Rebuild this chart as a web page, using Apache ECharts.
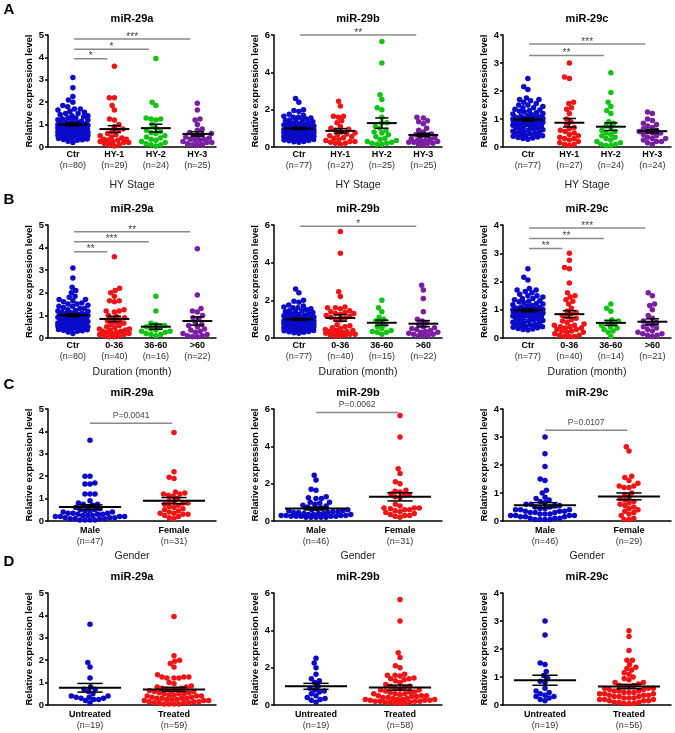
<!DOCTYPE html>
<html><head><meta charset="utf-8">
<script src="https://cdn.jsdelivr.net/npm/echarts/dist/echarts.min.js"></script>
<style>html,body{margin:0;padding:0;background:#fff}#c{width:675px;height:733px}</style>
</head><body><div id="c"></div>
<script>
// ---------- categories & n labels ----------
const catHY = ['Ctr', 'HY-1', 'HY-2', 'HY-3'];
const catDur = ['Ctr', '0-36', '36-60', '>60'];
const catGender = ['Male', 'Female'];
const catTreat = ['Untreated', 'Treated'];
const nA_a = [80, 29, 24, 25], nA_b = [77, 27, 25, 25], nA_c = [77, 27, 24, 24];
const nB_a = [80, 40, 16, 22], nB_b = [77, 40, 15, 22], nB_c = [77, 40, 14, 21];
const nC_a = [47, 31], nC_b = [46, 31], nC_c = [46, 29];
const nD_a = [19, 59], nD_b = [19, 58], nD_c = [19, 56];
const yTicksMax = [5, 6, 4];
const yTicksStep = [1, 2, 1];

// ---------- controls ----------
const ctr_a = [3.10,2.65,2.25,2.10,2.00,1.85,1.80,1.70,1.70,1.65,1.60,1.55,1.50,1.50,1.45,1.40,1.40,1.35,1.30,1.30,
1.25,1.22,1.20,1.18,1.15,1.12,1.10,1.08,1.06,1.05,1.04,1.02,1.01,1.00,1.00,0.99,0.98,0.97,0.96,0.95,
0.93,0.92,0.90,0.88,0.87,0.85,0.83,0.82,0.80,0.78,0.76,0.75,0.73,0.72,0.70,0.68,0.66,0.65,0.63,0.61,
0.60,0.58,0.56,0.55,0.53,0.51,0.50,0.48,0.46,0.45,0.43,0.41,0.40,0.38,0.36,0.34,0.32,0.30,0.26,0.20];
const ctr_b = [2.60,2.40,2.00,1.95,1.90,1.75,1.70,1.65,1.60,1.60,1.55,1.50,1.45,1.40,1.35,
1.30,1.28,1.25,1.22,1.20,1.18,1.15,1.12,1.10,1.08,1.06,1.05,1.03,1.02,1.00,0.99,0.98,0.97,0.96,0.95,
0.93,0.92,0.91,0.90,0.88,0.87,0.86,0.85,0.84,0.82,0.80,0.78,0.76,0.75,0.74,0.72,0.70,0.68,0.66,0.65,
0.63,0.61,0.60,0.58,0.56,0.55,0.53,0.51,0.50,0.48,0.46,0.44,0.42,0.40,0.38,0.35,0.33,0.30,0.28,0.25,1.40,1.45];
const ctr_c = [2.45,2.15,2.05,1.75,1.70,1.70,1.65,1.60,1.55,1.50,1.50,1.45,1.40,1.40,1.35,
1.32,1.30,1.28,1.25,1.22,1.20,1.18,1.15,1.12,1.10,1.08,1.06,1.05,1.04,1.02,1.01,1.00,0.99,0.98,0.97,
0.96,0.95,0.94,0.92,0.91,0.90,0.89,0.88,0.86,0.85,0.84,0.82,0.80,0.78,0.77,0.75,0.73,0.72,0.70,0.68,
0.66,0.64,0.62,0.60,0.58,0.56,0.54,0.52,0.50,0.48,0.46,0.44,0.42,0.40,0.38,0.36,0.34,0.32,0.30,0.28,0.90,1.00];

// ---------- A: HY stage ----------
const hy1_a = [3.6,2.2,2.2,1.85,1.65,1.25,1.2,1.0,0.9,0.8,0.75,0.7,0.6,0.55,0.5,0.45,0.4,0.35,0.35,0.3,0.3,0.25,0.25,0.2,0.2,0.15,0.1,0.1,0.05];
const hy2_a = [3.95,2.0,1.85,1.3,1.25,1.25,1.2,1.0,0.85,0.75,0.7,0.65,0.6,0.5,0.45,0.4,0.35,0.3,0.25,0.2,0.15,0.1,0.1,0.05];
const hy3_a = [1.95,1.65,1.25,1.2,1.0,0.8,0.75,0.65,0.6,0.55,0.5,0.45,0.45,0.4,0.35,0.35,0.3,0.3,0.25,0.2,0.2,0.15,0.1,0.1,0.1];
const hy1_b = [2.45,2.2,1.65,1.65,1.6,1.4,1.3,1.1,1.0,0.95,0.9,0.8,0.75,0.7,0.65,0.6,0.55,0.5,0.45,0.4,0.35,0.3,0.3,0.25,0.2,0.2,0.15];
const hy2_b = [5.65,4.5,2.8,2.55,2.1,2.0,1.6,1.3,1.3,1.1,1.0,0.9,0.8,0.75,0.65,0.55,0.45,0.4,0.35,0.3,0.25,0.2,0.2,0.15,0.15];
const hy3_b = [1.6,1.55,1.4,1.35,1.25,1.0,0.9,0.8,0.7,0.65,0.6,0.55,0.5,0.45,0.4,0.35,0.35,0.3,0.3,0.25,0.25,0.2,0.2,0.15,0.1];
const hy1_c = [3.0,2.5,2.45,1.6,1.55,1.4,1.35,1.2,1.0,0.9,0.8,0.7,0.65,0.6,0.55,0.5,0.45,0.4,0.35,0.3,0.3,0.25,0.2,0.15,0.1,0.1,0.05];
const hy2_c = [2.65,1.95,1.6,1.45,1.3,1.2,0.9,0.85,0.75,0.7,0.6,0.55,0.5,0.45,0.4,0.35,0.3,0.25,0.2,0.15,0.1,0.1,0.05,0.05];
const hy3_c = [1.25,1.2,1.0,0.95,0.85,0.8,0.75,0.7,0.65,0.6,0.55,0.55,0.5,0.5,0.45,0.4,0.35,0.3,0.3,0.25,0.2,0.2,0.15,0.1];

// ---------- B: duration ----------
const dur1_a = [3.6,2.2,2.1,2.0,1.85,1.65,1.65,1.6,1.25,1.2,1.2,1.15,1.0,0.95,0.9,0.85,0.8,0.75,0.7,0.65,0.6,0.55,0.5,0.45,0.4,0.4,0.35,0.35,0.3,0.3,0.25,0.25,0.2,0.2,0.15,0.15,0.1,0.1,0.05,0.05];
const dur2_a = [1.85,1.2,0.65,0.6,0.55,0.5,0.45,0.4,0.35,0.3,0.3,0.25,0.2,0.15,0.15,0.1];
const dur3_a = [3.95,1.9,1.3,1.2,1.15,1.0,0.9,0.85,0.7,0.6,0.55,0.5,0.4,0.35,0.3,0.25,0.2,0.15,0.1,0.1,0.05,0.05];
const dur1_b = [5.65,4.5,2.45,2.2,1.65,1.6,1.6,1.55,1.45,1.4,1.35,1.3,1.3,1.25,1.2,1.15,1.1,1.05,1.0,0.95,0.7,0.65,0.6,0.55,0.5,0.45,0.4,0.4,0.35,0.35,0.3,0.3,0.25,0.25,0.2,0.2,0.15,0.15,0.1,0.1];
const dur2_b = [2.0,1.6,1.4,1.1,1.0,0.9,0.8,0.7,0.6,0.5,0.4,0.35,0.3,0.3,0.2];
const dur3_b = [2.8,2.55,2.1,1.4,1.0,0.9,0.8,0.7,0.6,0.55,0.5,0.45,0.4,0.35,0.3,0.3,0.25,0.2,0.2,0.15,0.1,0.1];
const dur1_c = [3.0,2.75,2.5,2.45,1.95,1.6,1.5,1.45,1.35,1.3,1.2,1.05,0.95,0.9,0.85,0.8,0.75,0.7,0.65,0.6,0.55,0.5,0.45,0.45,0.4,0.4,0.35,0.35,0.3,0.3,0.25,0.25,0.2,0.2,0.15,0.1,0.1,0.05,0.05,0.05];
const dur2_c = [1.2,1.05,0.95,0.65,0.6,0.55,0.5,0.45,0.4,0.35,0.3,0.25,0.2,0.05];
const dur3_c = [1.6,1.5,1.2,1.15,1.0,0.8,0.7,0.6,0.55,0.5,0.45,0.4,0.35,0.3,0.25,0.2,0.15,0.15,0.1,0.1,0.05];

// ---------- C: gender ----------
const male_a = [3.6,2.0,2.0,1.7,1.65,1.65,1.2,1.2,1.2,0.9,0.8,0.75,0.75,0.7,0.65,0.6,0.55,0.5,0.5,0.45,0.45,0.4,0.4,0.35,0.35,0.35,0.3,0.3,0.3,0.25,0.25,0.25,0.2,0.2,0.2,0.2,0.15,0.15,0.15,0.1,0.1,0.1,0.1,0.05,0.05,0.05,0.05];
const female_a = [3.95,2.2,1.95,1.9,1.3,1.25,1.2,1.2,1.15,1.1,1.0,0.9,0.85,0.8,0.8,0.75,0.7,0.65,0.6,0.55,0.5,0.45,0.4,0.35,0.35,0.3,0.3,0.25,0.2,0.15,0.1];
const male_b = [2.45,2.2,1.7,1.65,1.3,1.25,1.2,1.2,1.0,1.0,0.95,0.9,0.85,0.8,0.75,0.7,0.65,0.6,0.6,0.55,0.55,0.5,0.5,0.45,0.45,0.45,0.4,0.4,0.4,0.35,0.35,0.35,0.3,0.3,0.3,0.3,0.25,0.25,0.25,0.25,0.25,0.2,0.2,0.2,0.2,0.2];
const female_b = [5.65,4.5,2.8,2.55,2.1,2.0,1.65,1.6,1.55,1.45,1.4,1.4,1.3,1.25,0.9,0.8,0.7,0.7,0.7,0.65,0.6,0.6,0.55,0.5,0.45,0.4,0.35,0.3,0.3,0.25,0.2];
const male_c = [3.0,2.4,1.95,1.5,1.45,1.1,1.0,0.85,0.8,0.75,0.7,0.65,0.6,0.6,0.55,0.55,0.5,0.5,0.45,0.45,0.4,0.4,0.4,0.35,0.35,0.35,0.3,0.3,0.3,0.25,0.25,0.25,0.2,0.2,0.2,0.2,0.15,0.15,0.15,0.1,0.1,0.1,0.05,0.05,0.05,0.05];
const female_c = [2.65,2.5,1.6,1.55,1.45,1.35,1.25,1.25,1.2,1.2,1.0,0.95,0.85,0.8,0.75,0.7,0.65,0.6,0.55,0.5,0.45,0.4,0.35,0.3,0.25,0.2,0.1,0.05,0.05];

// ---------- D: treatment ----------
const untr_a = [3.6,1.9,1.7,1.2,0.8,0.7,0.7,0.6,0.5,0.4,0.4,0.35,0.35,0.3,0.3,0.25,0.25,0.2,0.1];
const treat_a = [3.95,2.2,2.0,1.95,1.85,1.7,1.35,1.25,1.25,1.25,1.2,1.2,1.2,1.0,0.95,0.85,0.8,0.8,0.75,0.75,0.7,0.7,0.65,0.65,0.6,0.6,0.55,0.55,0.5,0.5,0.45,0.45,0.4,0.4,0.35,0.35,0.3,0.3,0.3,0.25,0.25,0.25,0.2,0.2,0.2,0.15,0.15,0.15,0.1,0.1,0.1,0.1,0.05,0.05,0.05,0.05,0.3,0.4,0.5];
const untr_b = [2.5,2.25,2.0,1.65,1.4,1.3,1.2,1.0,0.9,0.8,0.75,0.7,0.6,0.5,0.4,0.35,0.3,0.25,0.15];
const treat_b = [5.65,4.5,2.8,2.55,2.1,2.0,1.65,1.6,1.6,1.55,1.45,1.4,1.4,1.35,1.3,1.2,1.1,1.0,1.0,0.95,0.9,0.85,0.8,0.75,0.7,0.7,0.65,0.6,0.6,0.55,0.5,0.5,0.45,0.45,0.4,0.4,0.35,0.35,0.3,0.3,0.3,0.25,0.25,0.25,0.2,0.2,0.2,0.2,0.15,0.15,0.15,0.1,0.1,0.1,0.6,0.8,0.5,0.3];
const untr_c = [3.0,2.5,1.5,1.45,1.2,1.05,0.95,0.85,0.8,0.6,0.5,0.45,0.4,0.35,0.3,0.3,0.25,0.2,0.15];
const treat_c = [2.65,2.45,1.95,1.6,1.6,1.45,1.35,1.3,1.25,1.15,1.1,1.0,0.95,0.9,0.8,0.75,0.7,0.65,0.65,0.6,0.6,0.55,0.55,0.5,0.5,0.45,0.45,0.4,0.4,0.4,0.35,0.35,0.3,0.3,0.3,0.25,0.25,0.25,0.2,0.2,0.2,0.15,0.15,0.15,0.1,0.1,0.1,0.05,0.05,0.05,0.6,0.5,0.45,0.35,0.7,0.8];

// ---------- significance annotations: [fromGroup, toGroup, value, label] ----------
const sigA_a = [[0,1,3.94,'*'],[0,2,4.36,'*'],[0,3,4.82,'***']];
const sigA_b = [[0,3,6.0,'**']];
const sigA_c = [[0,2,3.27,'**'],[0,3,3.68,'***']];
const sigB_a = [[0,1,3.82,'**'],[0,2,4.26,'***'],[0,3,4.70,'**']];
const sigB_b = [[0,3,5.94,'*']];
const sigB_c = [[0,1,3.17,'**'],[0,2,3.52,'**'],[0,3,3.89,'***']];
const sigC_a = [[0,1,4.36,'P=0.0041']];
const sigC_b = [[0,1,5.81,'P=0.0062']];
const sigC_c = [[0,1,3.24,'P=0.0107']];

// ---------- layout / style ----------
const FONT = '"Liberation Sans", Arial, sans-serif';
const COLORS = ['#0A0AC8', '#F01414', '#12C412', '#7A1FA2'];
const W = 168;
const colLefts = [48, 274, 503];
const rowTops = [35, 225, 409, 593];
const rowHeights = [112, 113, 112, 112];
const titles = ['miR-29a', 'miR-29b', 'miR-29c'];

const panels = [
  {r:0,c:0,cats:catHY,n:nA_a,groups:[ctr_a,hy1_a,hy2_a,hy3_a],sig:sigA_a,xName:'HY Stage'},
  {r:0,c:1,cats:catHY,n:nA_b,groups:[ctr_b,hy1_b,hy2_b,hy3_b],sig:sigA_b,xName:'HY Stage'},
  {r:0,c:2,cats:catHY,n:nA_c,groups:[ctr_c,hy1_c,hy2_c,hy3_c],sig:sigA_c,xName:'HY Stage'},
  {r:1,c:0,cats:catDur,n:nB_a,groups:[ctr_a,dur1_a,dur2_a,dur3_a],sig:sigB_a,xName:'Duration (month)'},
  {r:1,c:1,cats:catDur,n:nB_b,groups:[ctr_b,dur1_b,dur2_b,dur3_b],sig:sigB_b,xName:'Duration (month)'},
  {r:1,c:2,cats:catDur,n:nB_c,groups:[ctr_c,dur1_c,dur2_c,dur3_c],sig:sigB_c,xName:'Duration (month)'},
  {r:2,c:0,cats:catGender,n:nC_a,groups:[male_a,female_a],sig:sigC_a,xName:'Gender'},
  {r:2,c:1,cats:catGender,n:nC_b,groups:[male_b,female_b],sig:sigC_b,xName:'Gender'},
  {r:2,c:2,cats:catGender,n:nC_c,groups:[male_c,female_c],sig:sigC_c,xName:'Gender'},
  {r:3,c:0,cats:catTreat,n:nD_a,groups:[untr_a,treat_a],sig:[],xName:''},
  {r:3,c:1,cats:catTreat,n:nD_b,groups:[untr_b,treat_b],sig:[],xName:''},
  {r:3,c:2,cats:catTreat,n:nD_c,groups:[untr_c,treat_c],sig:[],xName:''}
];
const xNameGaps = [33, 29, 30, 30];
const labelMargins = [2.5, 2.5, 4.5, 4.5];

// beeswarm layout (pixel space) – deterministic
function swarm(vals, pxY, d, maxHalf) {
  const order = vals.map(v => ({v})).sort((a, b) => a.v - b.v);
  const placed = [];
  order.forEach(p => {
    const y = p.v * pxY;
    const iv = [];
    placed.forEach(q => {
      const dy = Math.abs(q.y - y);
      if (dy < d) { const dx = Math.sqrt(d*d - dy*dy); iv.push([q.x - dx, q.x + dx]); }
    });
    const cands = [0];
    iv.forEach(r => cands.push(r[0], r[1]));
    cands.sort((a, b) => Math.abs(a) - Math.abs(b) || a - b);
    let best = null;
    for (const c of cands) {
      if (Math.abs(c) > maxHalf) break;
      if (iv.every(r => c <= r[0] + 1e-6 || c >= r[1] - 1e-6)) { best = c; break; }
    }
    if (best === null) {
      let bd = -1; best = 0;
      for (let c = -maxHalf; c <= maxHalf + 1e-9; c += 0.5) {
        let md = Infinity;
        placed.forEach(q => { const dd = Math.hypot(q.x - c, q.y - y); if (dd < md) md = dd; });
        if (md > bd + 1e-9) { bd = md; best = c; }
      }
    }
    placed.push({x: best, y, v: p.v});
  });
  return placed;
}

function stats(g) {
  const n = g.length;
  const m = g.reduce((s, v) => s + v, 0) / n;
  const sd = Math.sqrt(g.reduce((s, v) => s + (v - m) * (v - m), 0) / (n - 1));
  return [m, sd / Math.sqrt(n)];
}

const grids = [], xAxes = [], yAxes = [], series = [], graphics = [];

panels.forEach((p, k) => {
  const N = p.cats.length;
  const xmin = N === 4 ? -0.6 : -0.5, xmax = N === 4 ? 3.45 : 1.5;
  const left = colLefts[p.c], top = rowTops[p.r], h = rowHeights[p.r];
  const yMax = yTicksMax[p.c];
  const pxX = W / (xmax - xmin), pxY = h / yMax;
  grids.push({left, top, width: W, height: h, containLabel: false, outerBoundsMode: 'none'});
  xAxes.push({
    gridIndex: k, type: 'value', min: xmin, max: xmax,
    axisLine: {show: true, onZero: false, lineStyle: {color: '#000', width: 1.5}},
    axisTick: {show: false}, splitLine: {show: false},
    axisLabel: {
      customValues: p.cats.map((_, i) => i),
      margin: labelMargins[p.r],
      formatter: v => '{c|' + p.cats[Math.round(v)] + '}\n{n|(n=' + p.n[Math.round(v)] + ')}',
      rich: {
        c: {fontSize: 9, fontWeight: 'bold', color: '#000', lineHeight: 11, fontFamily: FONT},
        n: {fontSize: 9, color: '#333', lineHeight: 11, fontFamily: FONT}
      }
    },
    name: p.xName, nameLocation: 'middle', nameGap: xNameGaps[p.r],
    nameTextStyle: {fontSize: 10.5, color: '#222', fontFamily: FONT}
  });
  yAxes.push({
    gridIndex: k, type: 'value', min: 0, max: yMax, interval: yTicksStep[p.c],
    axisLine: {show: true, onZero: false, lineStyle: {color: '#000', width: 1.5}},
    axisTick: {show: true, inside: false, length: 3, lineStyle: {color: '#000', width: 1.5}},
    splitLine: {show: false},
    axisLabel: {fontSize: 9.5, fontWeight: 'bold', color: '#000', margin: 4, fontFamily: FONT},
    name: 'Relative expression level', nameLocation: 'middle', nameGap: 12,
    nameTextStyle: {fontSize: 9.5, fontWeight: 'bold', color: '#000', fontFamily: FONT}
  });
  const maxHalf = N === 4 ? 15 : 37;
  p.groups.forEach((g, i) => {
    const sw = swarm(g, pxY, 5.0, maxHalf);
    series.push({
      type: 'scatter', xAxisIndex: k, yAxisIndex: k, symbolSize: 5.5, silent: true, z: 2,
      itemStyle: {color: COLORS[i], opacity: 1},
      data: sw.map(s => [i + s.x / pxX, s.v])
    });
  });
  const halfW = N === 4 ? 0.36 : 0.37, capW = N === 4 ? 0.16 : 0.15;
  series.push({
    type: 'custom', xAxisIndex: k, yAxisIndex: k, z: 6, silent: true, clip: false,
    data: p.groups.map((g, i) => { const s = stats(g); return [i, s[0], s[1]]; }),
    renderItem: (params, api) => {
      const i = api.value(0), m = api.value(1), s = api.value(2);
      const a = api.coord([i - halfW, m]), b = api.coord([i + halfW, m]);
      const t = api.coord([i, m + s]), u = api.coord([i, m - s]);
      const c1 = api.coord([i - capW, m + s]), c2 = api.coord([i + capW, m + s]);
      const c3 = api.coord([i - capW, m - s]), c4 = api.coord([i + capW, m - s]);
      const st = {stroke: '#000', lineWidth: 1.5};
      return {type: 'group', children: [
        {type: 'line', shape: {x1: a[0], y1: a[1], x2: b[0], y2: b[1]}, style: {stroke: '#000', lineWidth: 2}},
        {type: 'line', shape: {x1: t[0], y1: t[1], x2: u[0], y2: u[1]}, style: st},
        {type: 'line', shape: {x1: c1[0], y1: c1[1], x2: c2[0], y2: c2[1]}, style: st},
        {type: 'line', shape: {x1: c3[0], y1: c3[1], x2: c4[0], y2: c4[1]}, style: st}
      ]};
    }
  });
  if (p.sig.length) {
    const ts = N === 4 ? 0.03 : 0.0, te = N === 4 ? 0.17 : 0.02;
    const sig = p.sig;
    series.push({
      type: 'custom', xAxisIndex: k, yAxisIndex: k, z: 5, silent: true, clip: false,
      data: sig.map(s => [s[0], s[1], s[2]]),
      renderItem: (params, api) => {
        const x0 = api.value(0), x1 = api.value(1), y = api.value(2);
        const label = sig[params.dataIndex][3];
        const isP = label.charAt(0) === 'P';
        const p0 = api.coord([x0 + ts, y]), p1 = api.coord([x1 - te, y]);
        return {type: 'group', children: [
          {type: 'line', shape: {x1: p0[0], y1: p0[1], x2: p1[0], y2: p1[1]}, style: {stroke: '#8a8a8a', lineWidth: 1.5}},
          {type: 'text', x: (p0[0] + p1[0]) / 2, y: p0[1] - (isP ? 7.5 : 2),
           style: {text: label, align: 'center', verticalAlign: 'middle', textAlign: 'center', textVerticalAlign: 'middle',
                   fontSize: isP ? 8.5 : 10, fontFamily: FONT, fill: '#444'}}
        ]};
      }
    });
  }
  graphics.push({type: 'text', x: left + W / 2, y: top - 16,
    style: {text: titles[p.c], fontSize: 11, fontWeight: 'bold', fontFamily: FONT, fill: '#000',
            align: 'center', verticalAlign: 'middle', textAlign: 'center', textVerticalAlign: 'middle'}});
});

const letters = [['A', 10], ['B', 200], ['C', 385], ['D', 562]];
letters.forEach(l => graphics.push({type: 'text', x: 9, y: l[1],
  style: {text: l[0], fontSize: 15, fontWeight: 'bold', fontFamily: FONT, fill: '#000',
          align: 'center', verticalAlign: 'middle', textAlign: 'center', textVerticalAlign: 'middle'}}));

const chart = echarts.init(document.getElementById('c'), null, {renderer: 'canvas'});
chart.setOption({
  animation: false,
  backgroundColor: '#fff',
  textStyle: {fontFamily: FONT},
  grid: grids, xAxis: xAxes, yAxis: yAxes, series: series, graphic: graphics
});
</script></body></html>
